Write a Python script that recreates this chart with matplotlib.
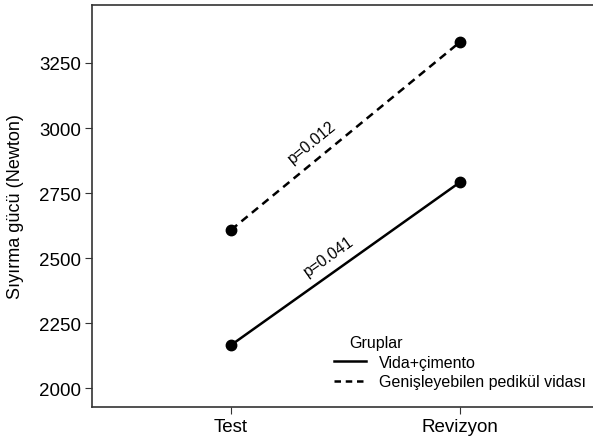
import matplotlib.pyplot as plt
from matplotlib.lines import Line2D

plt.rcParams['font.family'] = ['Liberation Sans', 'DejaVu Sans']

periods = ['Test', 'Revizyon']
vida_cimento = [2165, 2792]
genisleyebilen = [2608, 3331]
group_names = ['Vida+çimento', 'Genişleyebilen pedikül vidası']
p_values = ['p=0.041', 'p=0.012']

fig = plt.figure(figsize=(5.93, 4.39), dpi=100)
ax = fig.add_axes([0.155, 0.0706, 0.845, 0.9157])

x = [1, 2]
ax.plot(x, vida_cimento, '-', color='black', linewidth=1.8,
        marker='o', markersize=7.5)
ax.plot(x, genisleyebilen, '--', color='black', linewidth=1.8,
        marker='o', markersize=7.5, dashes=(3.2, 2.2))

# p labels rotated along the lines
ax.text(1.425, 2505, p_values[0], rotation=35.4, ha='center', va='center',
        fontsize=11.3, rotation_mode='anchor')
ax.text(1.35, 2945, p_values[1], rotation=39.4, ha='center', va='center',
        fontsize=11.3, rotation_mode='anchor')

ax.set_xlim(0.393, 2.58)
ax.set_ylim(1927, 3473)
ax.set_xticks(x)
ax.set_xticklabels(periods, fontsize=13.5)
ax.set_yticks([2000, 2250, 2500, 2750, 3000, 3250])
ax.tick_params(axis='y', labelsize=13.5, length=5, color='#333333', pad=3)
ax.tick_params(axis='x', length=5, color='#333333', pad=3)
ax.set_ylabel('Sıyırma gücü (Newton)', fontsize=13, labelpad=11)

ax.spines['right'].set_visible(False)
for s in ['left', 'top', 'bottom']:
    ax.spines[s].set_color('#333333')
    ax.spines[s].set_linewidth(1.2)

handles = [Line2D([], [], color='black', linestyle='-', linewidth=1.8),
           Line2D([], [], color='black', linestyle='--', linewidth=1.8, dashes=(2.6, 1.9))]
leg = ax.legend(handles, group_names, title='Gruplar', frameon=False,
                loc='lower left', bbox_to_anchor=(0.455, 0.008), fontsize=11.5,
                title_fontsize=11.5, handlelength=2.0, handletextpad=0.8,
                labelspacing=0.3)
leg._legend_box.align = 'left'
leg.get_title().set_position((15, 0))

fig.savefig('out.png', dpi=100)
